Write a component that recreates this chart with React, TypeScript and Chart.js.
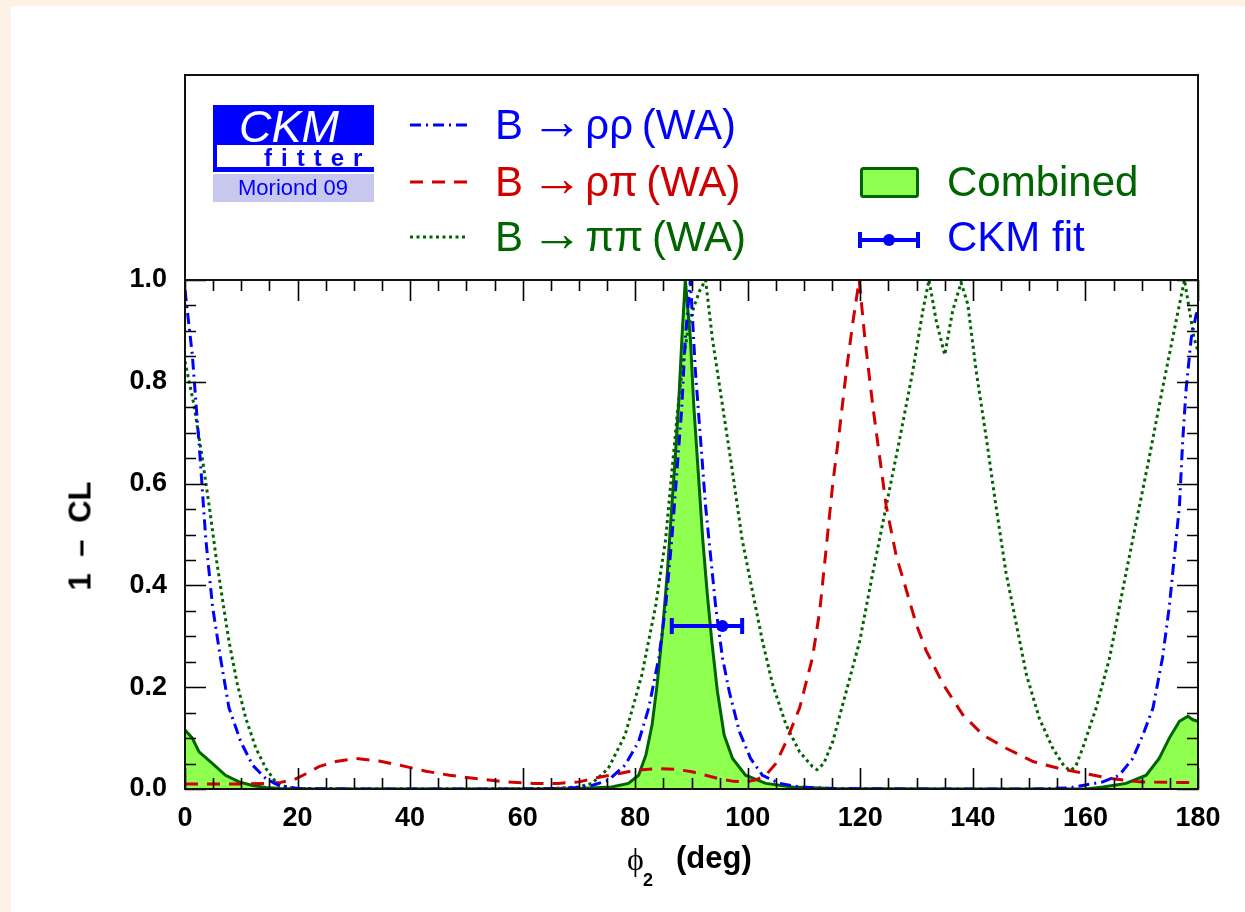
import React, { useEffect, useRef } from "react";
import { Chart, registerables } from "chart.js";

Chart.register(...registerables);

// ---------- axis ticks ----------
const xTicks = [0, 20, 40, 60, 80, 100, 120, 140, 160, 180];
const xTickLabels = ["0", "20", "40", "60", "80", "100", "120", "140", "160", "180"];
const yTicks = [0, 0.2, 0.4, 0.6, 0.8, 1.0];
const yTickLabels = ["0.0", "0.2", "0.4", "0.6", "0.8", "1.0"];

// ---------- B -> rho rho (WA) ----------
const rhoRhoX = [0, 1.3, 2.7, 3.7, 4.9, 6.3, 7.8, 9.9, 12, 14.4, 16.7, 20, 30, 40, 50, 60, 66, 70, 72.3, 75.2, 78.2, 80.6, 82.4, 84.2, 85.4, 86.5, 87.4, 88.3, 88.9, 89.8, 90.7, 91.6, 92.5, 93.4, 94.3, 95.5, 96.7, 98.5, 100.5, 102.6, 105.6, 109.2, 115, 130, 150, 157, 163.1, 166, 168.4, 170.2, 172, 173.7, 174.9, 175.8, 176.7, 177.3, 177.9, 178.8, 179.7, 180];
const rhoRhoY = [0.98, 0.853, 0.648, 0.49, 0.358, 0.258, 0.16, 0.093, 0.047, 0.02, 0.007, 0.001, 0, 0, 0, 0, 0.001, 0.003, 0.007, 0.017, 0.047, 0.093, 0.159, 0.258, 0.358, 0.49, 0.622, 0.754, 0.886, 1.0, 0.82, 0.688, 0.556, 0.457, 0.358, 0.258, 0.192, 0.113, 0.06, 0.027, 0.011, 0.004, 0.001, 0, 0, 0.002, 0.014, 0.027, 0.06, 0.106, 0.159, 0.258, 0.358, 0.457, 0.556, 0.688, 0.787, 0.886, 0.933, 0.94];

// ---------- B -> rho pi (WA) ----------
const rhoPiX = [0, 5, 10, 15, 17, 19.7, 21.5, 23.8, 26.8, 30.4, 34.5, 39.3, 42.8, 47, 52, 57, 62, 66.3, 70, 74, 77, 80, 84.2, 87, 90.1, 92.5, 94.9, 97.5, 99.6, 101.5, 103.2, 105, 106.8, 109.2, 111.5, 112.8, 114, 115.1, 116.3, 117.5, 118.7, 119.8, 120.8, 122.2, 123.4, 124.6, 126.4, 128.2, 129.9, 131.7, 134.7, 138.2, 141.8, 145.9, 150.7, 155.4, 160.1, 164.9, 169.6, 174.9, 180];
const rhoPiY = [0.01, 0.01, 0.01, 0.011, 0.013, 0.02, 0.03, 0.044, 0.054, 0.06, 0.055, 0.044, 0.035, 0.027, 0.02, 0.014, 0.011, 0.011, 0.014, 0.024, 0.03, 0.037, 0.04, 0.039, 0.034, 0.027, 0.02, 0.015, 0.014, 0.018, 0.027, 0.05, 0.093, 0.159, 0.258, 0.351, 0.48, 0.6, 0.705, 0.82, 0.919, 1.0, 0.886, 0.754, 0.655, 0.556, 0.457, 0.39, 0.325, 0.272, 0.206, 0.146, 0.106, 0.08, 0.054, 0.04, 0.03, 0.02, 0.014, 0.013, 0.013];

// ---------- B -> pi pi (WA) ----------
const piPiX = [0, 1.6, 3.1, 4.3, 5.5, 6.6, 7.8, 9.3, 10.8, 12.6, 14.4, 16.1, 17.9, 20, 30, 50, 65, 70, 72.3, 75.2, 78.2, 81.2, 83.6, 85.4, 86.5, 87.5, 88.5, 89.5, 90.5, 91.5, 92.5, 93.7, 95.5, 97.3, 99.0, 100.8, 102.6, 104.4, 106.8, 109.2, 111.5, 112.3, 113.5, 115.1, 117.5, 119.9, 122.2, 124.6, 127, 129.3, 131.1, 132.2, 133.5, 135, 136.4, 137.9, 139.1, 140.6, 142.4, 144.1, 145.9, 147.7, 149.5, 151.8, 154.2, 156.2, 157.3, 158.3, 159.5, 161.9, 164.3, 166.6, 169, 171.4, 173.7, 176.1, 177.6, 178.5, 179.3, 180];
const piPiY = [0.84, 0.754, 0.648, 0.556, 0.457, 0.377, 0.291, 0.206, 0.139, 0.08, 0.04, 0.014, 0.004, 0.001, 0, 0, 0.001, 0.004, 0.011, 0.04, 0.106, 0.225, 0.358, 0.49, 0.622, 0.74, 0.84, 0.91, 0.95, 0.98, 1.0, 0.886, 0.754, 0.622, 0.49, 0.39, 0.291, 0.206, 0.126, 0.073, 0.044, 0.038, 0.05, 0.093, 0.192, 0.291, 0.424, 0.556, 0.688, 0.82, 0.939, 1.0, 0.919, 0.853, 0.939, 0.995, 0.952, 0.82, 0.688, 0.556, 0.424, 0.325, 0.225, 0.139, 0.08, 0.045, 0.036, 0.045, 0.08, 0.159, 0.258, 0.39, 0.523, 0.655, 0.787, 0.919, 1.0, 0.939, 0.886, 0.86];

// ---------- Combined ----------
const combinedX = [0, 1.3, 2.5, 4.9, 7.2, 9.6, 12, 14.4, 17, 20, 40, 60, 70, 75.8, 78.8, 80.6, 81.9, 83.0, 83.9, 84.8, 85.7, 86.5, 87.1, 87.7, 88.3, 88.9, 89.8, 90.4, 91.2, 92, 92.8, 93.6, 94.6, 95.8, 97.3, 99.6, 103.2, 108, 115, 140, 160, 163.1, 167.2, 170.8, 173.1, 174.9, 176.7, 178.2, 179.1, 180];
const combinedY = [0.116, 0.1, 0.073, 0.05, 0.027, 0.014, 0.007, 0.003, 0.001, 0, 0, 0, 0.001, 0.004, 0.011, 0.027, 0.067, 0.126, 0.206, 0.305, 0.424, 0.556, 0.648, 0.754, 0.886, 1.0, 0.886, 0.754, 0.622, 0.49, 0.384, 0.291, 0.192, 0.106, 0.06, 0.027, 0.011, 0.004, 0.001, 0, 0, 0.004, 0.011, 0.027, 0.06, 0.1, 0.133, 0.143, 0.136, 0.133];

// ---------- CKM fit ----------
const ckmFitValue = 95.5;
const ckmFitLow = 86.5;
const ckmFitHigh = 99.0;
const ckmFitLevel = 0.32;

const BLUE = "#0000ff";
const RED = "#d00000";
const DKGREEN = "#006400";
const FILLGREEN = "#8fff50";

const toPts = (xs: number[], ys: number[]) => xs.map((x, i) => ({ x, y: ys[i] }));

const framePlugin = {
  id: "frameTicks",
  afterDatasetsDraw(chart: any) {
    const { ctx, chartArea: a, scales } = chart;
    const xs = scales.x;
    const ys = scales.y;
    ctx.save();
    // CKM fit error bar
    const py = ys.getPixelForValue(ckmFitLevel);
    const pl = xs.getPixelForValue(ckmFitLow);
    const ph = xs.getPixelForValue(ckmFitHigh);
    const pv = xs.getPixelForValue(ckmFitValue);
    ctx.strokeStyle = BLUE;
    ctx.fillStyle = BLUE;
    ctx.lineWidth = 4;
    ctx.beginPath();
    ctx.moveTo(pl, py);
    ctx.lineTo(ph, py);
    ctx.moveTo(pl, py - 8);
    ctx.lineTo(pl, py + 8);
    ctx.moveTo(ph, py - 8);
    ctx.lineTo(ph, py + 8);
    ctx.stroke();
    ctx.beginPath();
    ctx.arc(pv, py, 6, 0, Math.PI * 2);
    ctx.fill();

    // ticks
    ctx.strokeStyle = "#000";
    ctx.lineWidth = 1.6;
    ctx.beginPath();
    for (let i = 0; i <= 36; i++) {
      const v = i * 5;
      const px = Math.round(xs.getPixelForValue(v)) + 0.5;
      const len = i % 4 === 0 ? 21 : 11;
      ctx.moveTo(px, a.bottom);
      ctx.lineTo(px, a.bottom - len);
      ctx.moveTo(px, a.top);
      ctx.lineTo(px, a.top + len);
    }
    for (let i = 0; i <= 20; i++) {
      const v = i * 0.05;
      const p = Math.round(ys.getPixelForValue(v)) + 0.5;
      const len = i % 4 === 0 ? 21 : 11;
      ctx.moveTo(a.left, p);
      ctx.lineTo(a.left + len, p);
      ctx.moveTo(a.right, p);
      ctx.lineTo(a.right - len, p);
    }
    ctx.stroke();
    ctx.lineWidth = 2;
    ctx.strokeStyle = "#111";
    ctx.strokeRect(a.left, a.top, a.right - a.left, a.bottom - a.top);
    ctx.restore();
  },
};

const FONT = "'Liberation Sans', Arial, Helvetica, sans-serif";

function Txt(props: { x: number; base: number; size: number; color: string; children: any; style?: any }) {
  const { x, base, size, color, children, style } = props;
  return (
    <div
      style={{
        position: "absolute",
        left: x,
        top: base - 0.8465 * size,
        fontFamily: FONT,
        fontSize: size,
        lineHeight: 1,
        color,
        whiteSpace: "nowrap",
        ...style,
      }}
    >
      {children}
    </div>
  );
}

function LegendRow(props: { base: number; color: string; particles: string; gap: number }) {
  const { base, color, particles, gap } = props;
  return (
    <Txt x={495} base={base} size={42} color={color}>
      B <span style={{ fontSize: 52, lineHeight: 0, marginLeft: -4, marginRight: -9 }}>→</span> {particles}
      <span style={{ marginLeft: gap }}> </span>(WA)
    </Txt>
  );
}

export default function App() {
  const canvasRef = useRef<HTMLCanvasElement | null>(null);

  useEffect(() => {
    document.body.style.margin = "0";
    const canvas = canvasRef.current;
    if (!canvas) return;
    const chart = new Chart(canvas, {
      type: "line",
      data: {
        datasets: [
          {
            label: "B → ρρ (WA)",
            data: toPts(rhoRhoX, rhoRhoY),
            borderColor: BLUE,
            borderWidth: 3,
            borderDash: [11, 5, 2, 5],
            fill: false,
            pointRadius: 0,
          },
          {
            label: "B → ρπ (WA)",
            data: toPts(rhoPiX, rhoPiY),
            borderColor: RED,
            borderWidth: 3,
            borderDash: [13, 9],
            fill: false,
            pointRadius: 0,
          },
          {
            label: "B → ππ (WA)",
            data: toPts(piPiX, piPiY),
            borderColor: DKGREEN,
            borderWidth: 3,
            borderDash: [3, 3.5],
            fill: false,
            pointRadius: 0,
          },
          {
            label: "Combined",
            data: toPts(combinedX, combinedY),
            borderColor: DKGREEN,
            backgroundColor: FILLGREEN,
            borderWidth: 3,
            fill: "origin",
            pointRadius: 0,
          },
        ],
      },
      options: {
        responsive: false,
        animation: false,
        devicePixelRatio: 1,
        layout: { padding: { left: 0, right: 47, top: 280, bottom: 0 } },
        plugins: { legend: { display: false }, tooltip: { enabled: false } },
        elements: { line: { tension: 0 }, point: { radius: 0 } },
        scales: {
          x: {
            type: "linear",
            min: 0,
            max: 180,
            grid: { display: false, drawTicks: false },
            border: { display: false },
            afterBuildTicks: (s: any) => {
              s.ticks = xTicks.map((v) => ({ value: v }));
            },
            afterFit: (s: any) => {
              s.height = 123;
            },
            ticks: {
              autoSkip: false,
              maxRotation: 0,
              padding: 13,
              color: "#000",
              font: { family: FONT, size: 27, weight: "bold" },
              callback: (_v: any, i: number) => xTickLabels[i],
            },
          },
          y: {
            type: "linear",
            min: 0,
            max: 1,
            grid: { display: false, drawTicks: false },
            border: { display: false },
            afterBuildTicks: (s: any) => {
              s.ticks = yTicks.map((v) => ({ value: v }));
            },
            afterFit: (s: any) => {
              s.width = 185;
            },
            ticks: {
              autoSkip: false,
              padding: 18,
              color: "#000",
              font: { family: FONT, size: 27, weight: "bold" },
              callback: (_v: any, i: number) => yTickLabels[i],
            },
          },
        },
      },
      plugins: [framePlugin],
    } as any);
    return () => chart.destroy();
  }, []);

  return (
    <div
      style={{
        position: "fixed",
        left: 0,
        top: 0,
        width: 1245,
        height: 912,
        background: "#fef2e6",
        overflow: "hidden",
      }}
    >
      <div style={{ position: "absolute", left: 11, top: 6, right: 0, bottom: 0, background: "#fff" }} />
      <canvas
        ref={canvasRef}
        width={1245}
        height={912}
        style={{ position: "absolute", left: 0, top: 0, width: 1245, height: 912, display: "block" }}
      />
      {/* legend box */}
      <div
        style={{
          position: "absolute",
          left: 184,
          top: 74,
          width: 1015,
          height: 207,
          boxSizing: "border-box",
          border: "2px solid #111",
        }}
      />
      {/* logo */}
      <div style={{ position: "absolute", left: 213, top: 105, width: 161, height: 67, background: "#0000ff" }} />
      <div style={{ position: "absolute", left: 217, top: 145, width: 157, height: 22, background: "#fff" }} />
      <div style={{ position: "absolute", left: 213, top: 174, width: 161, height: 28, background: "#c8c8ef" }} />
      <Txt x={239} base={142} size={45} color="#fff" style={{ fontStyle: "italic" }}>CKM</Txt>
      <Txt x={264} base={166} size={24} color="#0000ff" style={{ fontWeight: "bold", letterSpacing: 9 }}>fitter</Txt>
      <Txt x={238} base={196} size={22} color="#0000ff">Moriond 09</Txt>

      {/* legend line samples */}
      <svg style={{ position: "absolute", left: 0, top: 0 }} width={1245} height={300}>
        <line x1={410} y1={125} x2={468} y2={125} stroke={BLUE} strokeWidth={3} strokeDasharray="11 5 2 5" />
        <line x1={410} y1={182} x2={468} y2={182} stroke={RED} strokeWidth={3} strokeDasharray="13 9" />
        <line x1={410} y1={237} x2={468} y2={237} stroke={DKGREEN} strokeWidth={3} strokeDasharray="3 3.5" />
        <rect x={861.5} y={168.5} width={56} height={28} rx={2} fill={FILLGREEN} stroke={DKGREEN} strokeWidth={3} />
        <line x1={860} y1={240} x2={918} y2={240} stroke={BLUE} strokeWidth={4} />
        <line x1={860} y1={232} x2={860} y2={248} stroke={BLUE} strokeWidth={4} />
        <line x1={918} y1={232} x2={918} y2={248} stroke={BLUE} strokeWidth={4} />
        <circle cx={889} cy={240} r={6} fill={BLUE} />
      </svg>
      <LegendRow base={140} color={BLUE} particles="ρρ" gap={-3} />
      <LegendRow base={197} color={RED} particles="ρπ" gap={-3} />
      <LegendRow base={252} color={DKGREEN} particles="ππ" gap={-3} />
      <Txt x={947} base={197} size={42} color={DKGREEN}>Combined</Txt>
      <Txt x={947} base={252} size={42} color={BLUE}>CKM fit</Txt>

      {/* axis titles */}
      <Txt x={627} base={870} size={32} color="#000" style={{ fontFamily: "'Liberation Serif', 'DejaVu Serif', serif" }}>ϕ</Txt>
      <Txt x={643} base={886} size={18} color="#000" style={{ fontWeight: "bold" }}>2</Txt>
      <Txt x={676} base={868} size={31} color="#000" style={{ fontWeight: "bold" }}>(deg)</Txt>
      <div
        style={{
          position: "absolute",
          left: 80,
          top: 536,
          transform: "translate(-50%, -50%) rotate(-90deg)",
          fontFamily: FONT,
          fontWeight: "bold",
          fontSize: 31,
          lineHeight: 1,
          wordSpacing: 8,
          whiteSpace: "nowrap",
          color: "#000",
        }}
      >
        1 – CL
      </div>
    </div>
  );
}
